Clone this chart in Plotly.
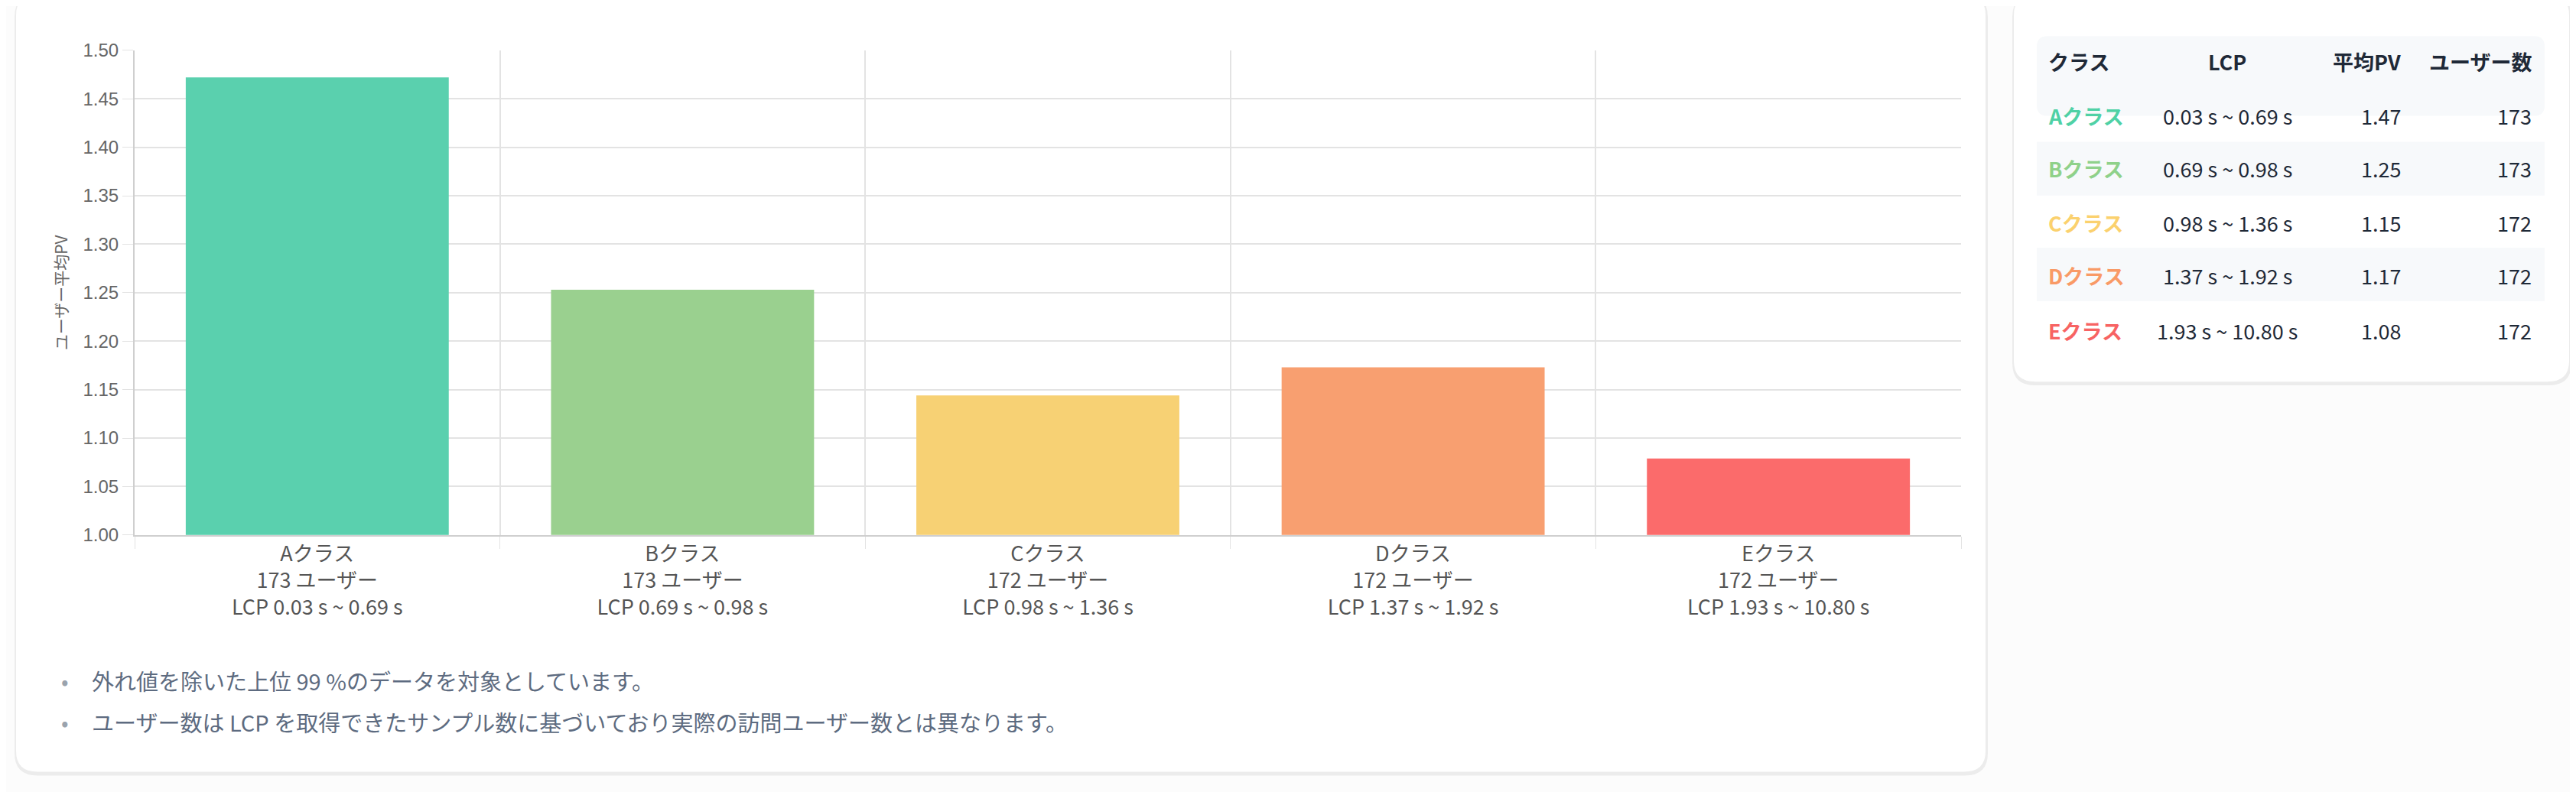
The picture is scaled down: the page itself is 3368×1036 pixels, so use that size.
import plotly.graph_objects as go

classes = ["Aクラス", "Bクラス", "Cクラス", "Dクラス", "Eクラス"]
users = [173, 173, 172, 172, 172]
lcp_ranges = ["0.03 s ~ 0.69 s", "0.69 s ~ 0.98 s", "0.98 s ~ 1.36 s", "1.37 s ~ 1.92 s", "1.93 s ~ 10.80 s"]
avg_pv = [1.472, 1.253, 1.144, 1.173, 1.079]
avg_pv_text = ["1.47", "1.25", "1.15", "1.17", "1.08"]
bar_colors = ["#5ad0ae", "#9ad08f", "#f7d174", "#f89f70", "#fb6b6b"]
label_colors = ["#4fd1a5", "#8fd18a", "#fbd16e", "#f99a66", "#f76363"]
notes = ["外れ値を除いた上位 99 %のデータを対象としています。",
         "ユーザー数は LCP を取得できたサンプル数に基づいており実際の訪問ユーザー数とは異なります。"]

W, H = 3368, 1036
FONT = "Noto Sans CJK JP"

def px(x): return x / W
def py(y): return 1 - y / H

def rrect(x0, y0, x1, y1, r):
    X0, X1 = px(x0), px(x1)
    Y0, Y1 = py(y0), py(y1)
    rx, ry = r / W, r / H
    return (f"M {X0+rx},{Y0} L {X1-rx},{Y0} Q {X1},{Y0} {X1},{Y0-ry} "
            f"L {X1},{Y1+ry} Q {X1},{Y1} {X1-rx},{Y1} L {X0+rx},{Y1} "
            f"Q {X0},{Y1} {X0},{Y1+ry} L {X0},{Y0-ry} Q {X0},{Y0} {X0+rx},{Y0} Z")

ticktext = [f"{c}<br>{u} ユーザー<br>LCP {r}" for c, u, r in zip(classes, users, lcp_ranges)]

fig = go.Figure(go.Bar(x=classes, y=avg_pv, marker=dict(color=bar_colors, line=dict(width=0)),
                       width=0.72, base=None))

shapes = []
# card shadows and cards
for (x0, y0, x1, y1) in [(13, -30, 2588, 1014), (2625, -30, 3351, 490)]:
    shapes.append(dict(type="path", xref="paper", yref="paper", layer="below",
                       path=rrect(x0 - 2, y0, x1 + 3, y1 + 5, 30), fillcolor="#ececec", line=dict(width=0)))
    shapes.append(dict(type="path", xref="paper", yref="paper", layer="below",
                       path=rrect(x0, y0, x1, y1, 28), fillcolor="white", line=dict(width=0)))
# table bands
shapes.append(dict(type="path", xref="paper", yref="paper", layer="below",
                   path=rrect(2655, 26, 3319, 133, 14), fillcolor="#f7f9fb", line=dict(width=0)))
for (y0, y1) in [(168, 240), (310, 382)]:
    shapes.append(dict(type="rect", xref="paper", yref="paper", layer="below",
                       x0=px(2655), x1=px(3319), y0=py(y1), y1=py(y0),
                       fillcolor="#f7f9fb", line=dict(width=0)))

ann = []
hdr_y = 60
dark = "#1f2937"
ann += [
    dict(x=px(2668), y=py(hdr_y), text="<b>クラス</b>", xanchor="left"),
    dict(x=px(2904), y=py(hdr_y), text="<b>LCP</b>", xanchor="center"),
    dict(x=px(3133), y=py(hdr_y), text="<b>平均PV</b>", xanchor="right"),
    dict(x=px(3304), y=py(hdr_y), text="<b>ユーザー数</b>", xanchor="right"),
]
row_y = [133, 204, 277, 348, 421]
for i in range(len(classes)):
    y = py(row_y[i])
    ann.append(dict(x=px(2668), y=y, text=f"<b>{classes[i]}</b>", xanchor="left",
                    font=dict(color=label_colors[i], size=27, family=FONT)))
    ann.append(dict(x=px(2904), y=y, text=lcp_ranges[i], xanchor="center"))
    ann.append(dict(x=px(3133), y=y, text=avg_pv_text[i], xanchor="right"))
    ann.append(dict(x=px(3304), y=y, text=str(users[i]), xanchor="right"))
for a in ann:
    a.setdefault("font", dict(color=dark, size=27, family=FONT))
    a.update(xref="paper", yref="paper", yanchor="middle", showarrow=False)

for i, (n, yy) in enumerate(zip(notes, [891, 947])):
    ann.append(dict(x=px(70), y=py(yy), xref="paper", yref="paper", text="•", showarrow=False,
                    xanchor="left", yanchor="middle", font=dict(size=28, color="#9aa3ad", family=FONT)))
    ann.append(dict(x=px(110), y=py(yy), xref="paper", yref="paper", text=n, showarrow=False,
                    xanchor="left", yanchor="middle", font=dict(size=29, color="#5d6b80", family=FONT)))

fig.update_layout(
    width=W, height=H, autosize=False,
    margin=dict(l=0, r=0, t=0, b=0),
    paper_bgcolor="#fcfcfc", plot_bgcolor="white",
    showlegend=False, bargap=0.28,
    font=dict(family=FONT, color="#666666"),
    shapes=shapes, annotations=ann,
    xaxis=dict(domain=[px(168), px(2556)], tickmode="array", tickvals=classes, ticktext=ticktext,
               tickson="boundaries", ticks="outside", ticklen=16, tickcolor="#e3e3e3",
               showgrid=True, gridcolor="#e3e3e3", gridwidth=1.5,
               showline=True, linecolor="#cfcfcf", linewidth=2,
               tickfont=dict(size=27, color="#555555", family=FONT)),
    yaxis=dict(domain=[py(696), py(45)], range=[1.0, 1.5], dtick=0.05, tick0=1.0, tickformat=".2f",
               ticks="outside", ticklen=14, tickcolor="#e3e3e3",
               showgrid=True, gridcolor="#e3e3e3", gridwidth=1.5, zeroline=False,
               showline=True, linecolor="#cfcfcf", linewidth=2,
               tickfont=dict(size=24, color="#666666", family="Liberation Sans"),
               title=dict(text="ユーザー平均PV", font=dict(size=21, color="#666666", family=FONT), standoff=14)),
)

fig.write_html("out.html")
